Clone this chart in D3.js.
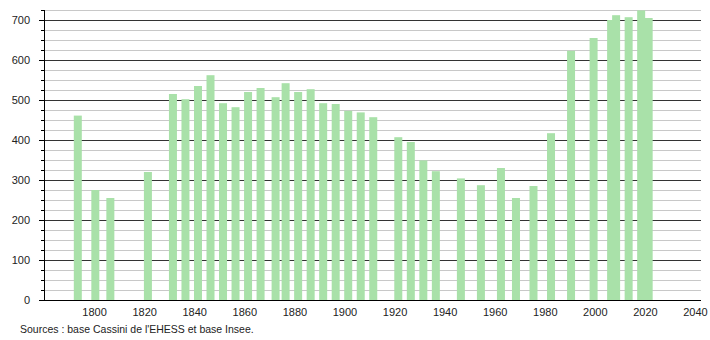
<!DOCTYPE html>
<html>
<head>
<meta charset="utf-8">
<script src="https://cdn.jsdelivr.net/npm/d3@7"></script>
<style>
  body { margin: 0; background: #fff; }
  text { font-family: "Liberation Sans", Arial, sans-serif; }
</style>
</head>
<body>
<div class="canvas"></div>
<script>
// census years and population
const years = [1793, 1800, 1806, 1821, 1831, 1836, 1841, 1846, 1851, 1856, 1861, 1866,
  1872, 1876, 1881, 1886, 1891, 1896, 1901, 1906, 1911, 1921, 1926, 1931, 1936,
  1946, 1954, 1962, 1968, 1975, 1982, 1990, 1999, 2006, 2008, 2013, 2018, 2021];
const population = [461, 275, 255, 320, 515, 502, 535, 562, 492, 482, 520, 530,
  507, 542, 520, 527, 492, 490, 473, 469, 457, 407, 395, 349, 322,
  304, 287, 330, 255, 285, 417, 623, 655, 700, 712, 707, 724, 705];
const xTicks = [1800, 1820, 1840, 1860, 1880, 1900, 1920, 1940, 1960, 1980, 2000, 2020, 2040];
const yTicks = [0, 100, 200, 300, 400, 500, 600, 700];
const source = "Sources : base Cassini de l'EHESS et base Insee.";

const margin = { top: 10, right: 9, bottom: 40, left: 44 };
const width = 710, height = 340;
const graphWidth = width - margin.left - margin.right;
const graphHeight = height - margin.top - margin.bottom;

const svg = d3.select('.canvas')
  .append('svg')
  .attr('width', width)
  .attr('height', height);

const graph = svg.append('g')
  .attr('transform', `translate(${margin.left}, ${margin.top})`);

// scales
const x = d3.scaleLinear().domain([1780, 2042.4]).range([0, graphWidth]);
const y = d3.scaleLinear().domain([0, 725]).range([graphHeight, 0]);

// minor grid every 25
const minor = d3.range(25, 726, 25).filter(v => v % 100 !== 0);
graph.selectAll('line.minor')
  .data(minor)
  .enter().append('line')
    .attr('class', 'minor')
    .attr('x1', 0).attr('x2', graphWidth)
    .attr('y1', d => Math.round(y(d)) + 0.5)
    .attr('y2', d => Math.round(y(d)) + 0.5)
    .attr('stroke', '#c8c8c8');

// major grid
graph.selectAll('line.major')
  .data(yTicks.slice(1))
  .enter().append('line')
    .attr('class', 'major')
    .attr('x1', 0).attr('x2', graphWidth)
    .attr('y1', d => Math.round(y(d)) + 0.5)
    .attr('y2', d => Math.round(y(d)) + 0.5)
    .attr('stroke', '#333');

// bars (centred mid-year)
const barW = 8;
graph.selectAll('rect')
  .data(years)
  .enter().append('rect')
    .attr('x', d => x(d + 0.5) - barW / 2)
    .attr('y', (d, i) => y(population[i]))
    .attr('width', barW)
    .attr('height', (d, i) => graphHeight - y(population[i]))
    .attr('fill', '#a9e1a9');

// y axis: major ticks + minor ticks
const yAxis = d3.axisLeft(y)
  .tickValues(yTicks)
  .tickSize(5)
  .tickPadding(9)
  .tickFormat(d3.format('d'));

const yAxisGroup = graph.append('g').call(yAxis);
yAxisGroup.select('.domain').remove();
yAxisGroup.selectAll('line').attr('stroke', '#000');
yAxisGroup.selectAll('text').attr('font-size', 11).attr('fill', '#222');

graph.selectAll('line.ytick')
  .data(minor)
  .enter().append('line')
    .attr('class', 'ytick')
    .attr('x1', -3).attr('x2', 0)
    .attr('y1', d => Math.round(y(d)) + 0.5)
    .attr('y2', d => Math.round(y(d)) + 0.5)
    .attr('stroke', '#000');

graph.append('line')
  .attr('x1', 0.5).attr('x2', 0.5)
  .attr('y1', 0).attr('y2', graphHeight)
  .attr('stroke', '#000');

// x axis
const xAxis = d3.axisBottom(x)
  .tickValues(xTicks)
  .tickSize(0)
  .tickPadding(8)
  .tickFormat(d3.format('d'));

const xAxisGroup = graph.append('g')
  .attr('transform', `translate(0, ${graphHeight})`)
  .call(xAxis);
xAxisGroup.select('.domain').remove();
xAxisGroup.selectAll('text').attr('font-size', 11).attr('fill', '#222');

graph.append('line')
  .attr('x1', -5).attr('x2', graphWidth)
  .attr('y1', graphHeight + 0.5).attr('y2', graphHeight + 0.5)
  .attr('stroke', '#000');

// source note
svg.append('text')
  .attr('x', 20)
  .attr('y', 333)
  .attr('font-size', 10.5)
  .attr('fill', '#222')
  .text(source);
</script>
</body>
</html>
